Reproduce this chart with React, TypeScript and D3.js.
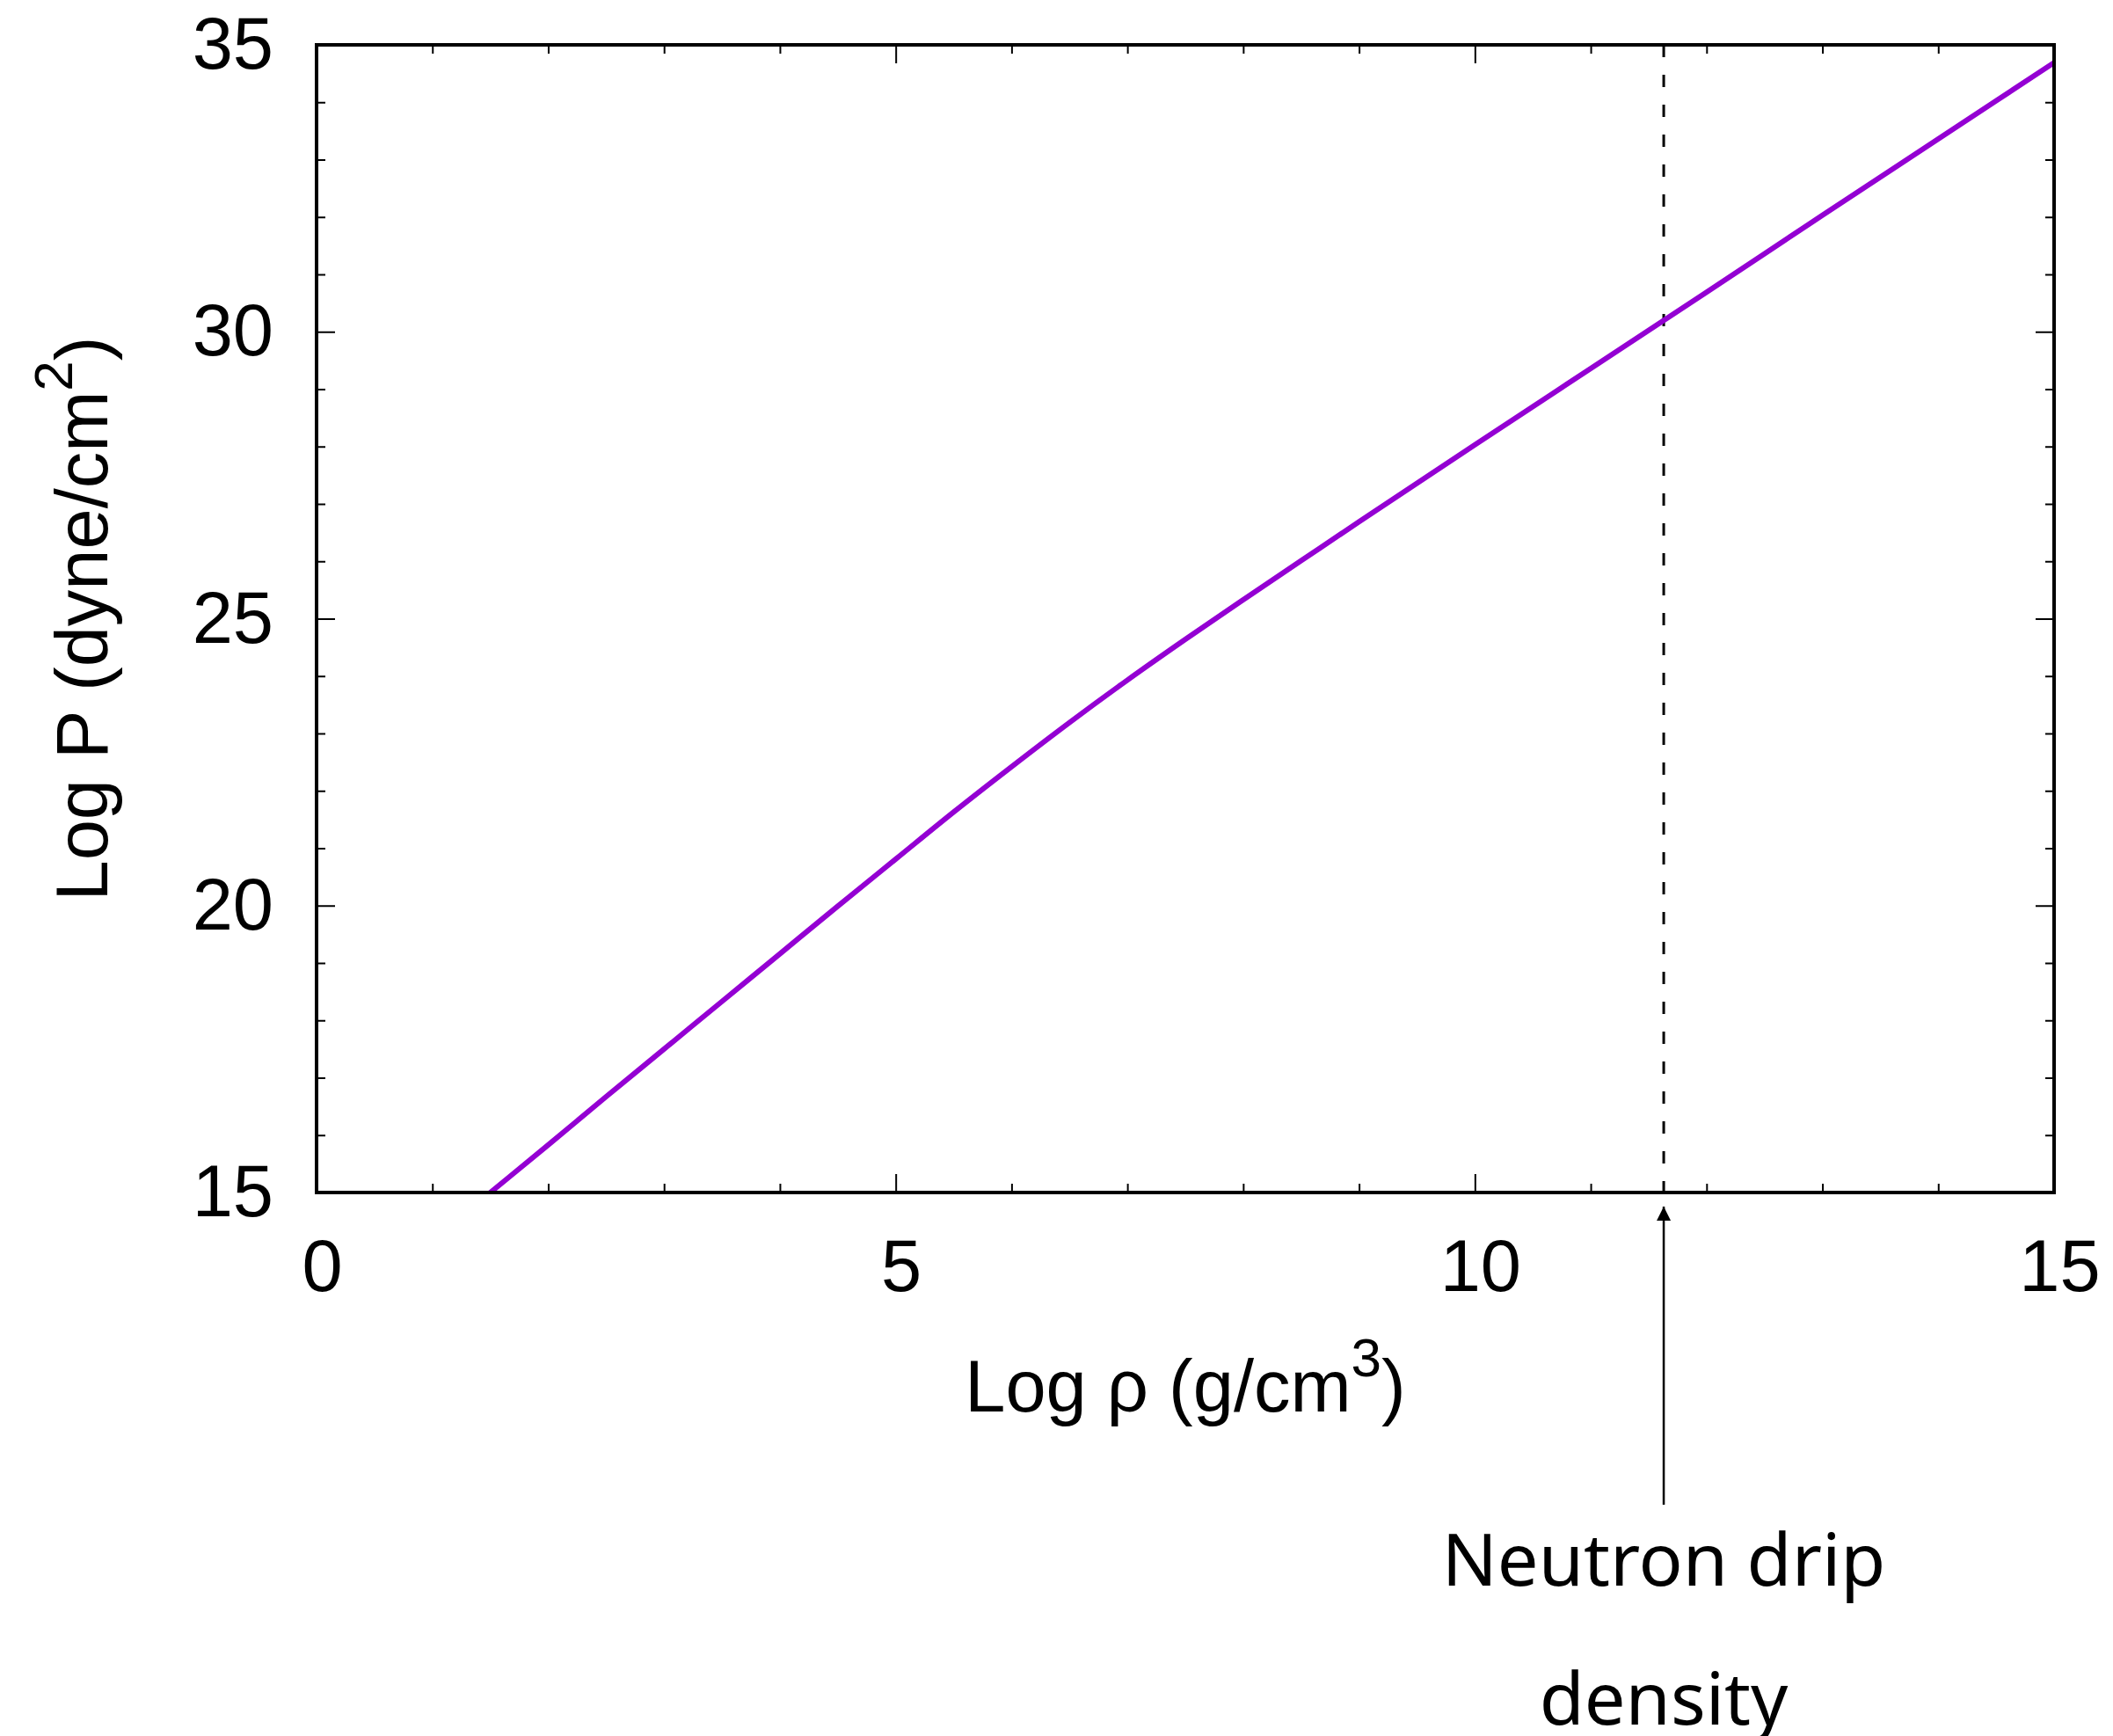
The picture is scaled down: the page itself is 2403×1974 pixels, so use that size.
import { useEffect, useRef } from 'react';
import * as d3 from 'd3';

// Degenerate electron gas EOS (log10 values)
const logRho = [1.0, 1.5, 2, 2.5, 3, 3.5, 4, 4.5, 5, 5.5, 6, 6.5, 7, 7.5, 8, 8.5, 9, 10, 11, 12, 13, 14, 15];
const logP = [14.17, 15.0, 15.83, 16.67, 17.5, 18.33, 19.16, 19.99, 20.81, 21.63, 22.42, 23.19, 23.93, 24.64, 25.33, 26.01, 26.69, 28.03, 29.36, 30.69, 32.03, 33.36, 34.69];

const neutronDripLogRho = 11.63;

const xMajorTicks = [0, 5, 10, 15];
const yMajorTicks = [15, 20, 25, 30, 35];
const xMinorTicks = [1, 2, 3, 4, 6, 7, 8, 9, 11, 12, 13, 14];
const yMinorTicks = [16, 17, 18, 19, 21, 22, 23, 24, 26, 27, 28, 29, 31, 32, 33, 34];

const annotationLines = ['Neutron drip', 'density'];

const WIDTH = 2403;
const HEIGHT = 1974;
const margin = { top: 51, right: 67, bottom: 618, left: 360 };

const tickFont = '"Liberation Sans", Arial, Helvetica, sans-serif';
const noteFont = '"Noto Sans", "Open Sans", sans-serif';

export default function App() {
  const svgRef = useRef<SVGSVGElement>(null);

  useEffect(() => {
    if (!svgRef.current) return;
    const svg = d3.select(svgRef.current);
    svg.selectAll('*').remove();

    const innerWidth = WIDTH - margin.left - margin.right;
    const innerHeight = HEIGHT - margin.top - margin.bottom;

    const xScale = d3.scaleLinear().domain([0, 15]).range([0, innerWidth]);
    const yScale = d3.scaleLinear().domain([15, 35]).range([innerHeight, 0]);

    const defs = svg.append('defs');
    defs.append('clipPath')
      .attr('id', 'plot-clip')
      .append('rect')
      .attr('width', innerWidth)
      .attr('height', innerHeight);

    defs.append('marker')
      .attr('id', 'arrow-head')
      .attr('viewBox', '0 0 10 10')
      .attr('refX', 10)
      .attr('refY', 5)
      .attr('markerWidth', 16)
      .attr('markerHeight', 17)
      .attr('markerUnits', 'userSpaceOnUse')
      .attr('orient', 'auto')
      .append('path')
      .attr('d', 'M0,0 L10,5 L0,10 Z')
      .attr('fill', '#000');

    const g = svg.append('g').attr('transform', `translate(${margin.left},${margin.top})`);

    // ticks (gnuplot style: inward, mirrored on all sides)
    const styleAxis = (sel: d3.Selection<SVGGElement, unknown, null, undefined>) => {
      sel.select('.domain').remove();
      sel.selectAll('.tick line').attr('stroke', '#000').attr('stroke-width', 2);
      sel.selectAll('text')
        .attr('fill', '#000')
        .attr('font-family', tickFont)
        .attr('font-size', 83);
    };

    const noLabel = () => '';

    g.append('g')
      .attr('transform', `translate(0,${innerHeight})`)
      .call(d3.axisBottom(xScale).tickValues(xMajorTicks).tickSize(-21).tickPadding(53).tickFormat(d3.format('d')))
      .call(styleAxis)
      .selectAll('text')
      .attr('dx', 6);
    g.append('g')
      .attr('transform', `translate(0,${innerHeight})`)
      .call(d3.axisBottom(xScale).tickValues(xMinorTicks).tickSize(-10).tickFormat(noLabel))
      .call(styleAxis);
    g.append('g')
      .call(d3.axisTop(xScale).tickValues(xMajorTicks).tickSize(-21).tickFormat(noLabel))
      .call(styleAxis);
    g.append('g')
      .call(d3.axisTop(xScale).tickValues(xMinorTicks).tickSize(-10).tickFormat(noLabel))
      .call(styleAxis);

    g.append('g')
      .call(d3.axisLeft(yScale).tickValues(yMajorTicks).tickSize(-21).tickPadding(49).tickFormat(d3.format('d')))
      .call(styleAxis);
    g.append('g')
      .call(d3.axisLeft(yScale).tickValues(yMinorTicks).tickSize(-10).tickFormat(noLabel))
      .call(styleAxis);
    g.append('g')
      .attr('transform', `translate(${innerWidth},0)`)
      .call(d3.axisRight(yScale).tickValues(yMajorTicks).tickSize(-21).tickFormat(noLabel))
      .call(styleAxis);
    g.append('g')
      .attr('transform', `translate(${innerWidth},0)`)
      .call(d3.axisRight(yScale).tickValues(yMinorTicks).tickSize(-10).tickFormat(noLabel))
      .call(styleAxis);

    // neutron drip marker
    const xDrip = xScale(neutronDripLogRho);
    g.append('line')
      .attr('x1', xDrip)
      .attr('x2', xDrip)
      .attr('y1', 0)
      .attr('y2', innerHeight)
      .attr('stroke', '#000')
      .attr('stroke-width', 3)
      .attr('stroke-dasharray', '14,20');

    // EOS curve
    const points = logRho.map((r, i) => ({ r, p: logP[i] }));
    const line = d3
      .line<{ r: number; p: number }>()
      .x((d) => xScale(d.r))
      .y((d) => yScale(d.p))
      .curve(d3.curveMonotoneX);

    g.append('path')
      .datum(points)
      .attr('clip-path', 'url(#plot-clip)')
      .attr('fill', 'none')
      .attr('stroke', '#9400d3')
      .attr('stroke-width', 6)
      .attr('d', line);

    // frame
    g.append('rect')
      .attr('width', innerWidth)
      .attr('height', innerHeight)
      .attr('fill', 'none')
      .attr('stroke', '#000')
      .attr('stroke-width', 4);

    // axis titles
    const xTitle = g.append('text')
      .attr('x', innerWidth / 2)
      .attr('y', innerHeight + 249)
      .attr('text-anchor', 'middle')
      .attr('font-family', tickFont)
      .attr('font-size', 83)
      .attr('fill', '#000');
    xTitle.append('tspan').text('Log ρ (g/cm');
    xTitle.append('tspan').attr('font-size', 62).attr('dy', -40).text('3');
    xTitle.append('tspan').attr('dy', 40).text(')');

    const yTitle = svg.append('text')
      .attr('transform', `translate(122,${margin.top + innerHeight / 2}) rotate(-90)`)
      .attr('text-anchor', 'middle')
      .attr('font-family', tickFont)
      .attr('font-size', 83)
      .attr('fill', '#000');
    yTitle.append('tspan').text('Log P (dyne/cm');
    yTitle.append('tspan').attr('font-size', 62).attr('dy', -40).text('2');
    yTitle.append('tspan').attr('dy', 40).text(')');

    // arrow + annotation below the axis
    g.append('line')
      .attr('x1', xDrip)
      .attr('x2', xDrip)
      .attr('y1', innerHeight + 355)
      .attr('y2', innerHeight + 16)
      .attr('stroke', '#000')
      .attr('stroke-width', 2.5)
      .attr('marker-end', 'url(#arrow-head)');

    g.selectAll('.note')
      .data(annotationLines)
      .enter()
      .append('text')
      .attr('class', 'note')
      .attr('x', xDrip)
      .attr('y', (_, i) => innerHeight + 447 + i * 158)
      .attr('text-anchor', 'middle')
      .attr('font-family', noteFont)
      .attr('font-size', 83)
      .attr('fill', '#000')
      .text((d) => d);
  }, []);

  return (
    <svg
      ref={svgRef}
      width={WIDTH}
      height={HEIGHT}
      style={{ position: 'absolute', left: 0, top: 0, background: '#fff', display: 'block' }}
    />
  );
}
